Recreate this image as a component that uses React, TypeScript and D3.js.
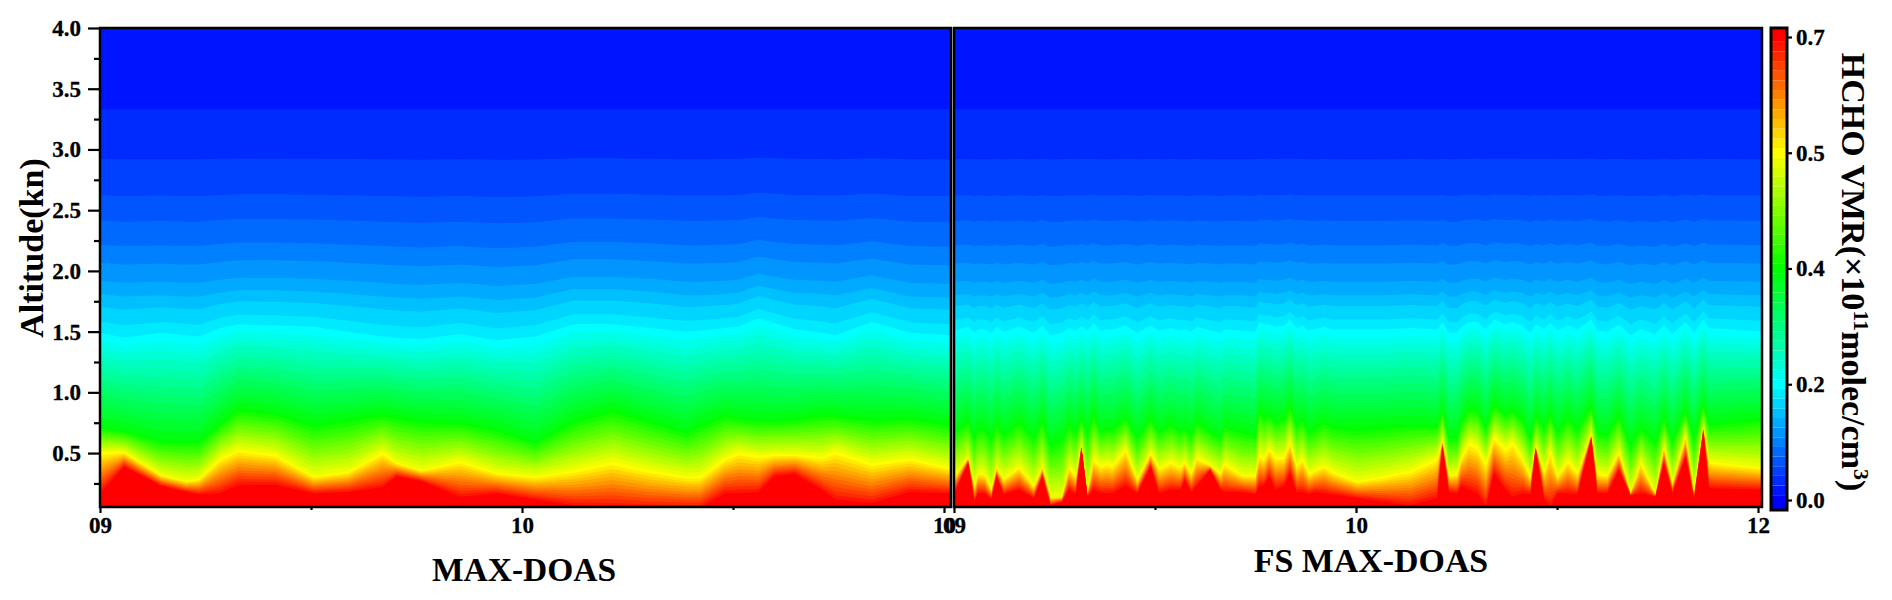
import * as d3 from "d3";
import { useEffect, useRef } from "react";

// time axis is in days from the first tick
const xTicks = [0, 0.5, 1, 1.5, 2];
const leftDayLabels = ["09", "", "10", "", "10"];
const rightDayLabels = ["09", "", "10", "", "12"];
const altTicks = [0.5, 1, 1.5, 2, 2.5, 3, 3.5, 4];
const altMinorTicks = [0.25, 0.75, 1.25, 1.75, 2.25, 2.75, 3.25, 3.75];
const colorTickLevels = [0, 12, 24, 36, 48];
const colorTickLabels = ["0.0", "0.2", "0.4", "0.5", "0.7"];

// altitude (km) of the upper contours, levels 2 to 12
const upperLevelAlts = [3.33, 2.92, 2.62, 2.41, 2.21, 2.06, 1.91, 1.8, 1.7, 1.58, 1.49];

// MAX-DOAS: altitude (km) of the red, yellow, green, cyan and sky blue contours
const leftTimes = [0, 0.057, 0.145, 0.205, 0.235, 0.284, 0.328, 0.415, 0.506, 0.588, 0.67, 0.703, 0.762, 0.853, 0.94, 1.031, 1.122, 1.214, 1.303, 1.39, 1.422, 1.481, 1.513, 1.56, 1.598, 1.647, 1.71, 1.742, 1.829, 1.919, 2.017];
const leftRed = [0.17, 0.39, 0.23, 0.18, 0.16, 0.17, 0.24, 0.24, 0.17, 0.18, 0.22, 0.31, 0.27, 0.14, 0.17, 0.12, 0.07, 0.06, 0.05, 0.05, 0.05, 0.17, 0.17, 0.18, 0.31, 0.33, 0.2, 0.12, 0.09, 0.18, 0.17];
const leftYellow = [0.51, 0.51, 0.32, 0.27, 0.29, 0.46, 0.53, 0.49, 0.31, 0.35, 0.51, 0.42, 0.36, 0.44, 0.34, 0.31, 0.36, 0.43, 0.36, 0.31, 0.31, 0.46, 0.51, 0.48, 0.49, 0.49, 0.47, 0.52, 0.42, 0.46, 0.38];
const leftGreen = [0.72, 0.69, 0.61, 0.61, 0.61, 0.75, 0.87, 0.84, 0.75, 0.79, 0.83, 0.81, 0.78, 0.76, 0.71, 0.6, 0.78, 0.87, 0.78, 0.69, 0.75, 0.82, 0.8, 0.78, 0.78, 0.79, 0.83, 0.82, 0.79, 0.8, 0.75];
const leftCyan = [1.49, 1.45, 1.49, 1.47, 1.46, 1.53, 1.56, 1.55, 1.54, 1.5, 1.46, 1.45, 1.44, 1.48, 1.43, 1.46, 1.56, 1.56, 1.53, 1.5, 1.51, 1.53, 1.54, 1.61, 1.57, 1.52, 1.49, 1.47, 1.58, 1.49, 1.47];
const leftSky = [1.81, 1.79, 1.8, 1.79, 1.79, 1.82, 1.84, 1.84, 1.83, 1.81, 1.79, 1.78, 1.77, 1.79, 1.76, 1.78, 1.85, 1.85, 1.83, 1.8, 1.8, 1.81, 1.82, 1.88, 1.85, 1.82, 1.81, 1.8, 1.86, 1.79, 1.78];

// FS MAX-DOAS: same contours, on a much finer time step
const rightTimes = [
  0, 0.035, 0.051, 0.06, 0.076, 0.093, 0.106, 0.123, 0.162, 0.199, 0.22, 0.24, 0.269, 0.286, 0.303, 0.317, 0.332, 0.347, 0.365, 0.38, 0.394, 0.427, 0.456, 0.489, 0.51, 0.539, 0.564, 0.574, 0.59, 0.604, 0.637, 0.663,
  0.672, 0.717, 0.75, 0.759, 0.771, 0.784, 0.8, 0.821, 0.836, 0.852, 0.867, 0.883, 0.896, 0.92, 0.941, 1.003, 1.07, 1.136, 1.202, 1.215, 1.231, 1.252, 1.262, 1.281, 1.302, 1.323,
  1.343, 1.372, 1.389, 1.414, 1.434, 1.447, 1.468, 1.483, 1.501, 1.527, 1.551, 1.585, 1.6, 1.625, 1.654, 1.683, 1.708, 1.745, 1.766, 1.787, 1.82, 1.841, 1.864, 1.878, 2.015,
];
const rightRed = [
  0.16, 0.42, 0.1, 0.17, 0.17, 0.12, 0.31, 0.16, 0.2, 0.13, 0.31, 0.07, 0.1, 0.2, 0.16, 0.54, 0.14, 0.2, 0.17, 0.17, 0.17, 0.23, 0.17, 0.39, 0.17, 0.2, 0.2, 0.28, 0.18, 0.23, 0.36, 0.2,
  0.18, 0.18, 0.16, 0.23, 0.23, 0.31, 0.2, 0.23, 0.335, 0.18, 0.18, 0.16, 0.18, 0.17, 0.16, 0.13, 0.1, 0.07, 0.13, 0.555, 0.18, 0.17, 0.23, 0.2, 0.17, 0.06,
  0.335, 0.2, 0.14, 0.17, 0.16, 0.53, 0.12, 0.06, 0.17, 0.17, 0.16, 0.62, 0.17, 0.17, 0.36, 0.15, 0.17, 0.14, 0.42, 0.17, 0.47, 0.12, 0.68, 0.21, 0.2,
];
const rightYellow = [
  0.31, 0.46, 0.23, 0.34, 0.33, 0.2, 0.38, 0.29, 0.39, 0.23, 0.385, 0.14, 0.14, 0.39, 0.31, 0.555, 0.17, 0.46, 0.4, 0.42, 0.4, 0.54, 0.28, 0.5, 0.38, 0.43, 0.39, 0.43, 0.335, 0.47, 0.4, 0.335,
  0.42, 0.32, 0.32, 0.49, 0.46, 0.54, 0.47, 0.47, 0.6, 0.4, 0.46, 0.335, 0.36, 0.4, 0.35, 0.27, 0.31, 0.36, 0.46, 0.6, 0.32, 0.335, 0.47, 0.59, 0.555, 0.42,
  0.64, 0.54, 0.6, 0.46, 0.31, 0.555, 0.35, 0.53, 0.31, 0.445, 0.335, 0.65, 0.335, 0.32, 0.51, 0.17, 0.43, 0.16, 0.555, 0.25, 0.65, 0.17, 0.71, 0.43, 0.38,
];
const rightGreen = [
  0.69, 0.77, 0.64, 0.72, 0.71, 0.64, 0.76, 0.665, 0.77, 0.64, 0.79, 0.58, 0.64, 0.75, 0.69, 0.8, 0.69, 0.84, 0.69, 0.72, 0.71, 0.8, 0.64, 0.8, 0.69, 0.75, 0.69, 0.72, 0.665, 0.77, 0.69, 0.64,
  0.73, 0.69, 0.665, 0.86, 0.82, 0.82, 0.77, 0.8, 0.9, 0.75, 0.79, 0.69, 0.72, 0.77, 0.73, 0.72, 0.73, 0.75, 0.73, 0.87, 0.64, 0.64, 0.77, 0.87, 0.86, 0.72,
  0.91, 0.83, 0.86, 0.79, 0.64, 0.82, 0.72, 0.84, 0.69, 0.8, 0.71, 0.9, 0.69, 0.665, 0.82, 0.58, 0.72, 0.61, 0.8, 0.62, 0.86, 0.64, 0.91, 0.75, 0.8,
];
const rightCyan = [
  1.51, 1.54, 1.49, 1.52, 1.52, 1.49, 1.54, 1.5, 1.54, 1.49, 1.55, 1.47, 1.49, 1.53, 1.51, 1.55, 1.51, 1.57, 1.51, 1.52, 1.52, 1.55, 1.49, 1.55, 1.51, 1.53, 1.51, 1.52, 1.5, 1.54, 1.51, 1.49,
  1.52, 1.51, 1.5, 1.58, 1.56, 1.56, 1.54, 1.55, 1.6, 1.53, 1.55, 1.51, 1.52, 1.54, 1.52, 1.52, 1.52, 1.53, 1.52, 1.58, 1.49, 1.49, 1.54, 1.58, 1.58, 1.52,
  1.6, 1.56, 1.58, 1.55, 1.49, 1.56, 1.52, 1.57, 1.51, 1.55, 1.52, 1.6, 1.51, 1.5, 1.56, 1.47, 1.52, 1.48, 1.55, 1.48, 1.58, 1.49, 1.6, 1.53, 1.5,
];
const rightSky = [
  1.8, 1.81, 1.79, 1.8, 1.8, 1.79, 1.81, 1.79, 1.81, 1.79, 1.82, 1.78, 1.79, 1.81, 1.8, 1.82, 1.8, 1.83, 1.8, 1.8, 1.8, 1.82, 1.79, 1.82, 1.8, 1.81, 1.8, 1.8, 1.79, 1.81, 1.8, 1.79,
  1.8, 1.8, 1.79, 1.83, 1.82, 1.82, 1.81, 1.82, 1.84, 1.81, 1.82, 1.8, 1.8, 1.81, 1.8, 1.8, 1.8, 1.81, 1.8, 1.83, 1.79, 1.79, 1.81, 1.83, 1.83, 1.8,
  1.84, 1.82, 1.83, 1.82, 1.79, 1.82, 1.8, 1.83, 1.8, 1.82, 1.8, 1.84, 1.8, 1.79, 1.82, 1.78, 1.8, 1.78, 1.82, 1.78, 1.83, 1.79, 1.84, 1.81, 1.8,
];

const FONT = "'Liberation Serif', 'Times New Roman', serif";
const TOP_LEVEL = 48;

const levelColor = d3
  .scaleLinear<string>()
  .domain([0, 12, 24, 36, 48])
  .range(["#0000ff", "#00ffff", "#00ff00", "#ffff00", "#ff0000"]);

// altitude of one contour level at time index i
function levelAltitude(level: number, i: number, red: number[], yellow: number[], green: number[], cyan: number[], sky: number[]) {
  if (level > 12) {
    return d3.scaleLinear().domain([12, 24, 36, 48]).range([cyan[i], green[i], yellow[i], red[i]])(level);
  }
  const shift = d3
    .scaleLinear()
    .domain([2, 9, 12])
    .range([0, sky[i] - upperLevelAlts[7], cyan[i] - upperLevelAlts[10]])(level);
  return upperLevelAlts[level - 2] + shift;
}

export default function App() {
  const svgRef = useRef<SVGSVGElement>(null);

  useEffect(() => {
    if (!svgRef.current) return;
    const svg = d3.select(svgRef.current);
    svg.selectAll("*").remove();

    const top = 28;
    const bottom = 507;
    const yScale = d3.scaleLinear().domain([0.056, 4]).range([bottom, top]);

    const styleAxis = (axis: any) => {
      axis.select(".domain").remove();
      axis.selectAll("line").attr("stroke", "#000").attr("stroke-width", 2.2);
      axis
        .selectAll("text")
        .attr("fill", "#000")
        .attr("stroke", "#000")
        .attr("stroke-width", 0.3)
        .attr("font-family", FONT)
        .attr("font-weight", "bold")
        .attr("font-size", 23);
    };

    const drawPanel = (
      id: string,
      x0: number,
      x1: number,
      dayPx: number,
      times: number[],
      red: number[],
      yellow: number[],
      green: number[],
      cyan: number[],
      sky: number[],
      dayLabels: string[]
    ) => {
      const xScale = d3.scaleLinear().domain([0, 1]).range([x0, x0 + dayPx]);

      svg
        .append("clipPath")
        .attr("id", id)
        .append("rect")
        .attr("x", x0)
        .attr("y", top)
        .attr("width", x1 - x0)
        .attr("height", bottom - top);

      const g = svg.append("g").attr("clip-path", `url(#${id})`);

      // Topmost band, then each contour level painted down to the ground
      g.append("rect")
        .attr("x", x0)
        .attr("y", top)
        .attr("width", x1 - x0)
        .attr("height", bottom - top)
        .attr("fill", levelColor(1));

      const levels = d3.range(2, TOP_LEVEL + 1);
      levels.forEach((level) => {
        const area = d3
          .area<number>()
          .x((t) => xScale(t))
          .y0(bottom)
          .y1((t, i) => yScale(levelAltitude(level, i, red, yellow, green, cyan, sky)));
        g.append("path").attr("d", area(times)).attr("fill", levelColor(level));
      });

      // Frame
      svg
        .append("rect")
        .attr("x", x0)
        .attr("y", top)
        .attr("width", x1 - x0)
        .attr("height", bottom - top)
        .attr("fill", "none")
        .attr("stroke", "#000")
        .attr("stroke-width", 2.5);

      // Time axis
      const xAxis = svg
        .append("g")
        .attr("transform", `translate(0,${bottom})`)
        .call(
          d3
            .axisBottom(xScale)
            .tickValues(xTicks)
            .tickSize(5)
            .tickFormat((d, i) => dayLabels[i])
        );
      styleAxis(xAxis);
      xAxis.selectAll("text").attr("y", 10);
      xAxis.selectAll(".tick line").attr("y2", (d, i) => (i % 2 ? 3 : 6));
    };

    drawPanel("panel-left", 100, 951, 422, leftTimes, leftRed, leftYellow, leftGreen, leftCyan, leftSky, leftDayLabels);
    drawPanel("panel-right", 954, 1762, 402, rightTimes, rightRed, rightYellow, rightGreen, rightCyan, rightSky, rightDayLabels);

    // Altitude axis
    const yAxis = svg
      .append("g")
      .attr("transform", "translate(100,0)")
      .call(d3.axisLeft(yScale).tickValues(altTicks).tickSize(12).tickPadding(7).tickFormat(d3.format(".1f")));
    styleAxis(yAxis);

    const yMinor = svg
      .append("g")
      .attr("transform", "translate(100,0)")
      .call(d3.axisLeft(yScale).tickValues(altMinorTicks).tickSize(6).tickFormat(() => ""));
    styleAxis(yMinor);

    // Colour bar
    const barLeft = 1771;
    const barRight = 1787;
    const barTop = 28;
    const barBottom = 510;
    const levelScale = d3.scaleLinear().domain([0, TOP_LEVEL]).range([500, 37]);

    svg
      .append("g")
      .selectAll("rect")
      .data(d3.range(0, TOP_LEVEL + 1))
      .enter()
      .append("rect")
      .attr("x", barLeft)
      .attr("width", barRight - barLeft)
      .attr("y", (d) => (d === TOP_LEVEL ? barTop : levelScale(d + 0.5)))
      .attr("height", (d) => {
        const y1 = d === 0 ? barBottom : levelScale(d - 0.5);
        const y0 = d === TOP_LEVEL ? barTop : levelScale(d + 0.5);
        return y1 - y0;
      })
      .attr("fill", (d) => levelColor(d));

    svg
      .append("rect")
      .attr("x", barLeft)
      .attr("y", barTop)
      .attr("width", barRight - barLeft)
      .attr("height", barBottom - barTop)
      .attr("fill", "none")
      .attr("stroke", "#000")
      .attr("stroke-width", 3);

    const colorAxis = svg
      .append("g")
      .attr("transform", `translate(${barRight},0)`)
      .call(
        d3
          .axisRight(levelScale)
          .tickValues(colorTickLevels)
          .tickSize(5)
          .tickPadding(4)
          .tickFormat((d, i) => colorTickLabels[i])
      );
    styleAxis(colorAxis);

    // Titles
    const addTitle = (x: number, y: number, size: number, text: string, rotate = 0) =>
      svg
        .append("text")
        .attr("transform", `translate(${x},${y}) rotate(${rotate})`)
        .attr("text-anchor", "middle")
        .attr("font-family", FONT)
        .attr("font-weight", "bold")
        .attr("font-size", size)
        .attr("fill", "#000")
        .text(text);

    addTitle(524, 581, 33.5, "MAX-DOAS");
    addTitle(1371, 572, 33.9, "FS MAX-DOAS");
    addTitle(43, 248, 34, "Altitude(kn)", -90);

    const barTitle = addTitle(1842, 272, 34, "", 90);
    barTitle.append("tspan").text("HCHO VMR(×10");
    barTitle.append("tspan").attr("dy", -12).attr("font-size", 22).text("11");
    barTitle.append("tspan").attr("dy", 12).text("molec/cm");
    barTitle.append("tspan").attr("dy", -12).attr("font-size", 22).text("3");
    barTitle.append("tspan").attr("dy", 12).text(")");
  }, []);

  return (
    <svg
      ref={svgRef}
      width={1892}
      height={600}
      style={{ position: "absolute", left: 0, top: 0, background: "#fff" }}
    />
  );
}
